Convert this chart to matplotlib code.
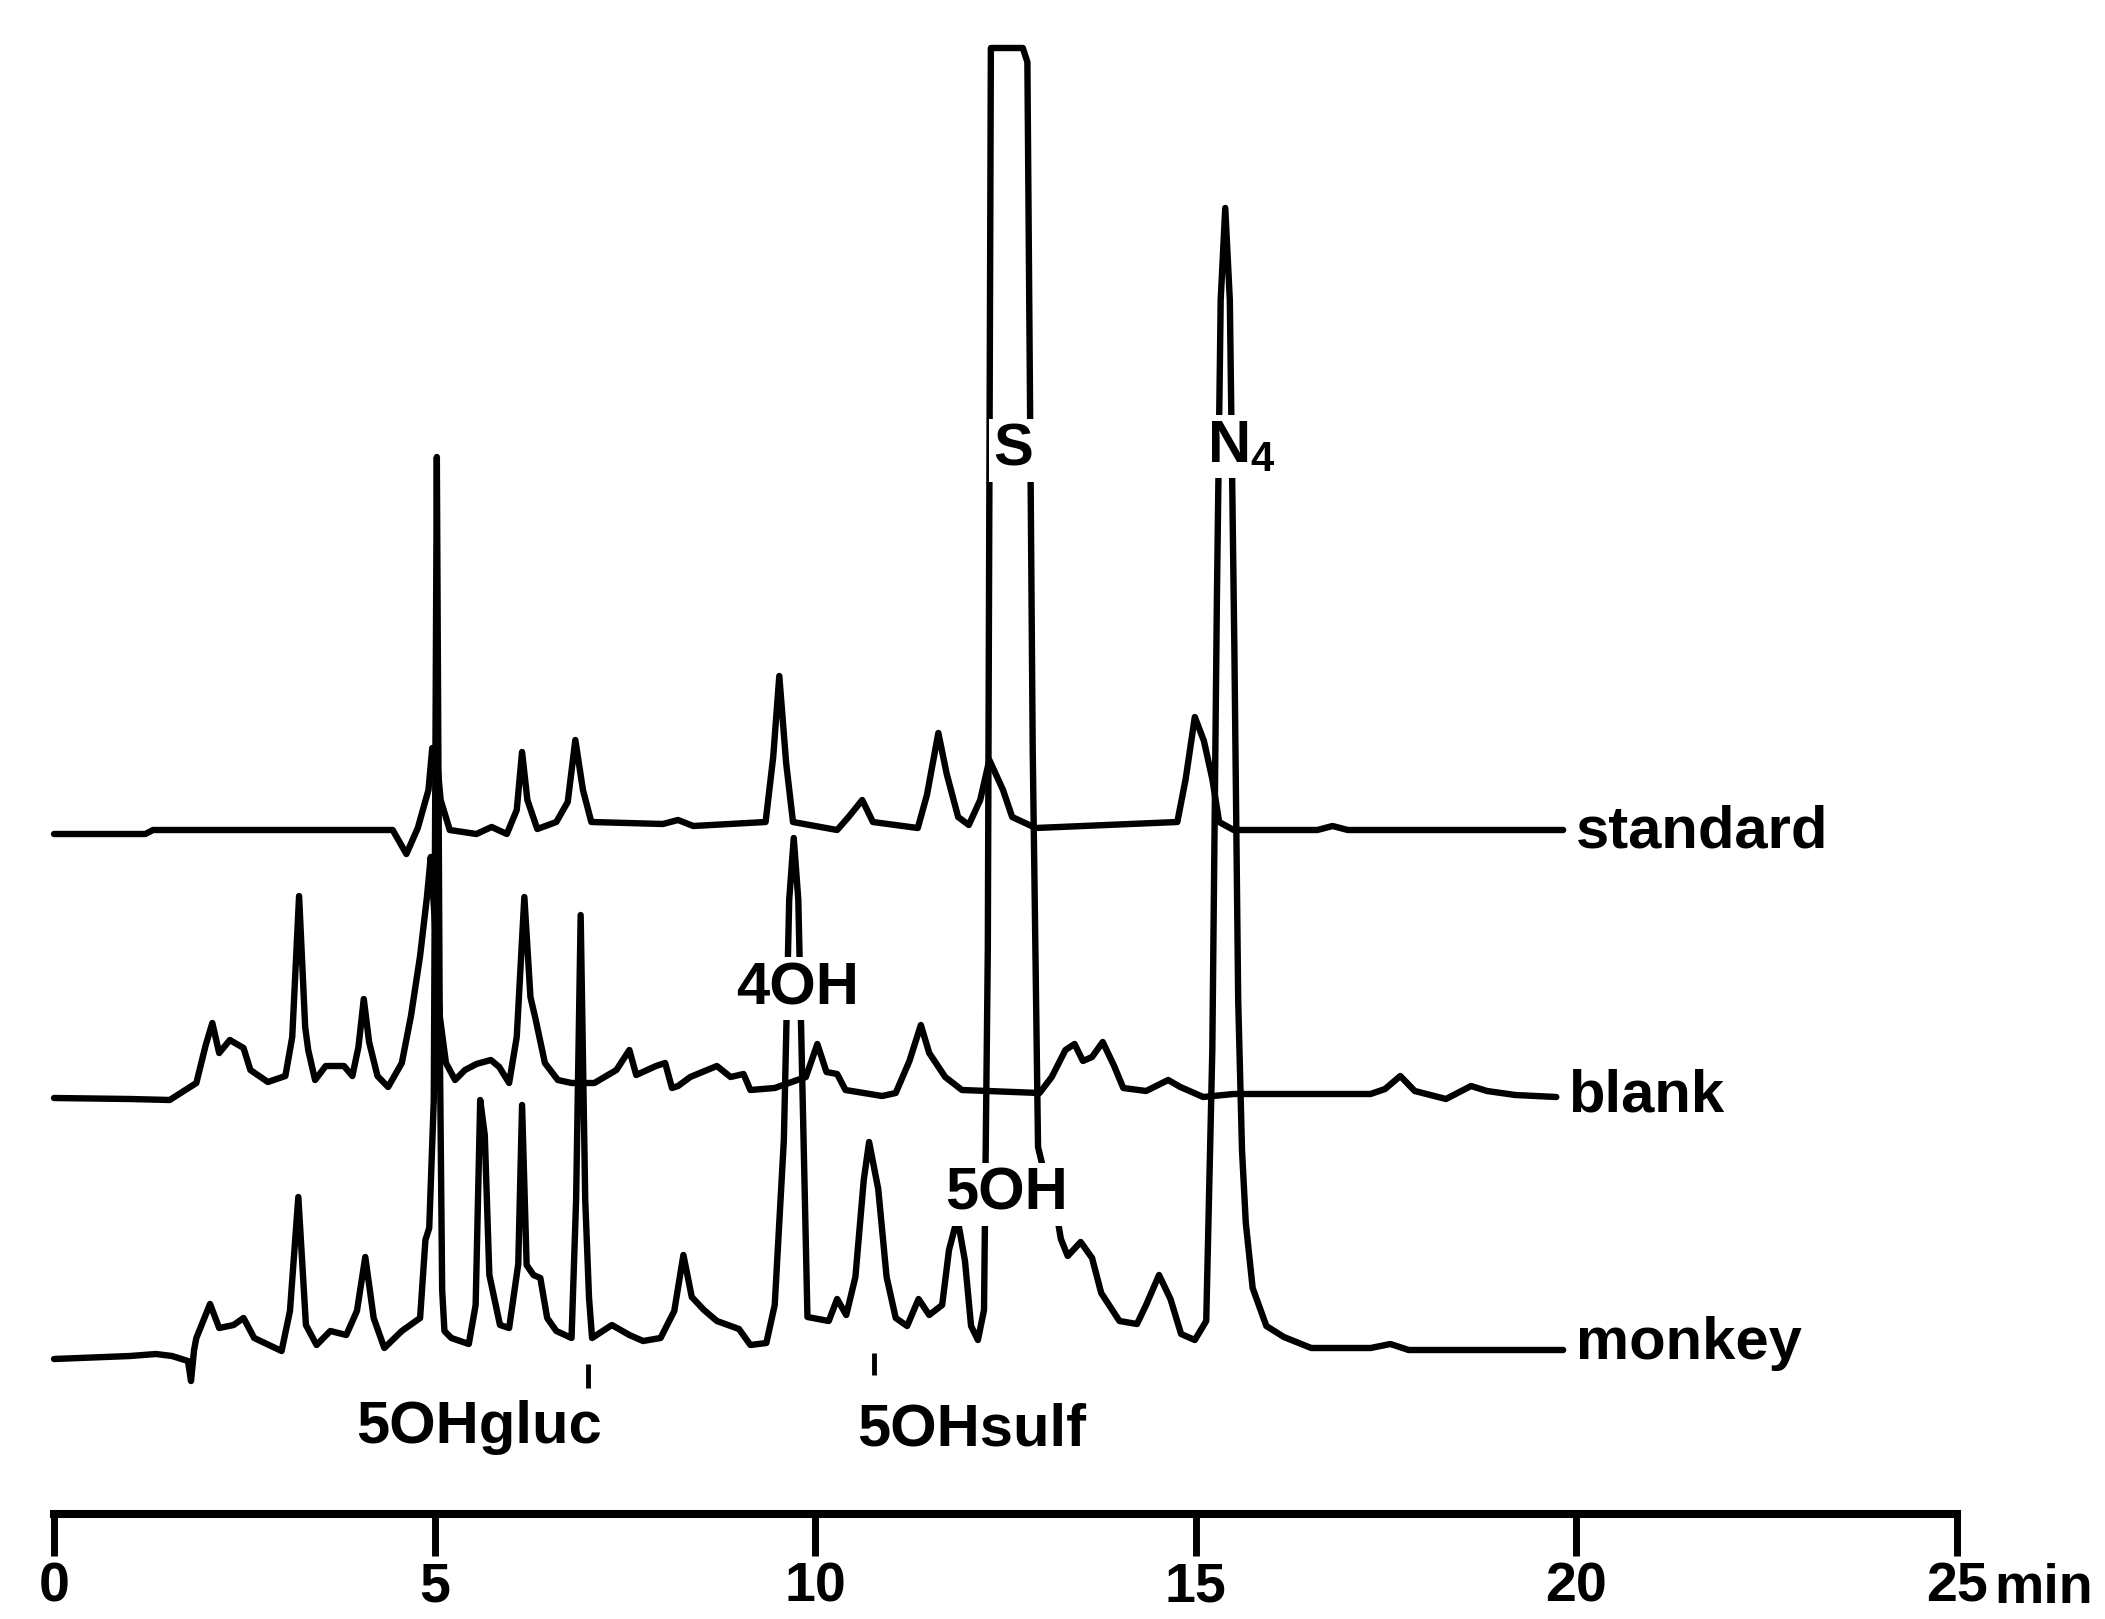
import matplotlib
matplotlib.use("Agg")
import matplotlib.pyplot as plt

# retention time (min) / detector response (arbitrary units)
standard_pts = [
    (0.0, -4), (1.2, -4), (1.3, 0), (4.45, 0), (4.63, -24), (4.78, 2), (4.92, 40),
    (4.97, 82), (5.02, 80), (5.08, 30), (5.2, 0), (5.55, -4), (5.75, 3), (5.95, -4),
    (6.08, 20), (6.15, 78), (6.22, 30), (6.35, 1), (6.6, 8), (6.75, 28), (6.85, 90),
    (6.95, 40), (7.06, 8), (8.0, 6), (8.2, 10), (8.4, 4), (9.35, 8), (9.45, 73),
    (9.53, 154), (9.62, 67), (9.71, 8), (10.29, 0), (10.44, 13), (10.62, 30),
    (10.76, 8), (11.35, 2), (11.47, 35), (11.62, 97), (11.73, 56), (11.88, 13),
    (12.02, 5), (12.17, 30), (12.29, 70), (12.47, 40), (12.59, 13), (12.9, 2),
    (14.76, 8), (14.87, 51), (14.99, 113), (15.11, 89), (15.22, 51), (15.31, 8),
    (15.5, 0), (16.6, 0), (16.8, 4), (17.0, 0), (19.83, 0),
]

blank_pts = [
    (0.0, -1), (1.0, -2), (1.52, -3), (1.87, 14), (1.99, 51), (2.08, 74), (2.17, 44),
    (2.31, 57), (2.49, 49), (2.58, 27), (2.81, 15), (3.04, 21), (3.13, 60), (3.22, 201),
    (3.30, 70), (3.34, 47), (3.43, 17), (3.57, 31), (3.81, 31), (3.92, 21), (4.00, 50),
    (4.07, 98), (4.14, 55), (4.25, 21), (4.39, 10), (4.57, 34), (4.69, 81), (4.81, 141),
    (4.90, 200), (4.95, 240), (5.00, 180), (5.07, 80), (5.15, 34), (5.27, 17), (5.40, 27),
    (5.55, 33), (5.74, 37), (5.85, 30), (5.98, 14), (6.08, 60), (6.18, 200), (6.26, 100),
    (6.33, 77), (6.45, 34), (6.62, 17), (6.80, 14), (7.10, 14), (7.39, 27), (7.56, 47),
    (7.65, 22), (7.91, 31), (8.03, 34), (8.12, 9), (8.20, 11), (8.36, 20), (8.71, 31),
    (8.89, 20), (9.06, 23), (9.15, 7), (9.47, 9), (9.88, 20), (10.03, 53), (10.15, 25),
    (10.29, 23), (10.40, 7), (10.88, 1), (11.06, 4), (11.24, 36), (11.39, 72),
    (11.50, 44), (11.71, 20), (11.93, 7), (12.95, 4), (13.11, 20), (13.29, 47),
    (13.41, 53), (13.52, 36), (13.64, 40), (13.78, 55), (13.93, 31), (14.05, 9),
    (14.35, 6), (14.64, 17), (14.80, 10), (15.10, 0), (15.5, 3), (17.3, 3), (17.49, 8),
    (17.69, 21), (17.88, 6), (18.29, -2), (18.62, 11), (18.83, 6), (19.2, 2), (19.74, 0),
]

monkey_pts = [
    (0.0, -9), (1.0, -6), (1.34, -4), (1.55, -6), (1.76, -11), (1.80, -31), (1.84, 0),
    (1.87, 12), (2.05, 46), (2.17, 22), (2.36, 25), (2.49, 32), (2.63, 12), (2.99, -1),
    (3.10, 39), (3.21, 153), (3.31, 25), (3.45, 5), (3.63, 19), (3.84, 15), (3.98, 39),
    (4.09, 93), (4.20, 32), (4.34, 2), (4.57, 19), (4.81, 32), (4.88, 110), (4.93, 122),
    (4.99, 250), (5.03, 893), (5.07, 300), (5.10, 60), (5.13, 19), (5.22, 12), (5.45, 6),
    (5.54, 45), (5.60, 250), (5.66, 215), (5.72, 75), (5.86, 25), (5.98, 22), (6.10, 86),
    (6.15, 245), (6.21, 85), (6.30, 75), (6.39, 72), (6.48, 32), (6.60, 19), (6.80, 12),
    (6.86, 150), (6.92, 435), (6.98, 150), (7.03, 52), (7.07, 12), (7.33, 25), (7.56, 15),
    (7.74, 9), (7.97, 12), (8.15, 39), (8.27, 95), (8.38, 53), (8.54, 40), (8.71, 29),
    (9.00, 21), (9.15, 5), (9.36, 7), (9.47, 45), (9.59, 210), (9.66, 450), (9.72, 512),
    (9.78, 450), (9.86, 173), (9.90, 33), (10.18, 29), (10.29, 51), (10.41, 35),
    (10.53, 73), (10.64, 170), (10.71, 208), (10.83, 161), (10.94, 73), (11.06, 32),
    (11.21, 24), (11.36, 51), (11.50, 35), (11.67, 45), (11.76, 100), (11.87, 132),
    (11.97, 89), (12.05, 24), (12.14, 10), (12.22, 40), (12.27, 400), (12.31, 1302),
    (12.73, 1302), (12.79, 1288), (12.86, 600), (12.93, 203), (13.05, 165), (13.17, 138),
    (13.23, 111), (13.32, 94), (13.49, 108), (13.64, 92), (13.76, 57), (14.00, 29),
    (14.23, 26), (14.35, 45), (14.52, 75), (14.67, 51), (14.81, 16), (14.99, 10),
    (15.14, 29), (15.22, 300), (15.28, 750), (15.33, 1050), (15.39, 1142), (15.45, 1050),
    (15.51, 700), (15.56, 350), (15.61, 200), (15.66, 127), (15.75, 62), (15.93, 24),
    (16.16, 13), (16.52, 2), (17.3, 2), (17.56, 6), (17.8, 0), (19.83, 0),
]

trace_names = ["standard", "blank", "monkey"]
time_ticks = [0, 5, 10, 15, 20, 25]

# vertical offsets of each trace on the page, and where its name sits
baselines = {"standard": 789, "blank": 522, "monkey": 269}
label_pos = {"standard": (20.0, 771), "blank": (19.9, 507), "monkey": (20.0, 260)}

plt.rcParams["font.family"] = ["Liberation Sans", "DejaVu Sans"]
plt.rcParams["font.weight"] = "bold"
plt.rcParams["mathtext.fontset"] = "custom"
plt.rcParams["mathtext.rm"] = "Liberation Sans:bold"

fig = plt.figure(figsize=(21.05, 16.19), dpi=100)
ax = fig.add_axes([0, 0, 1, 1])
ax.set_xlim(-0.71, 26.95)
ax.set_ylim(0, 1619)

fs = 43
lw = 4.6
for name, pts in zip(trace_names, [standard_pts, blank_pts, monkey_pts]):
    t = [p[0] for p in pts]
    h = [p[1] + baselines[name] for p in pts]
    ax.plot(t, h, color="black", lw=lw, solid_joinstyle="round",
            solid_capstyle="round", zorder=2)
    x0, y0 = label_pos[name]
    ax.text(x0, y0, name, fontsize=fs, ha="left", va="baseline", zorder=5)

box = dict(facecolor="white", edgecolor="none", pad=3)
ax.text(12.6, 1153, "S", fontsize=fs, ha="center", va="baseline", bbox=box, zorder=5)
ax.text(15.15, 1157, r"N$_{\mathregular{4}}$", fontsize=fs, ha="left", va="baseline",
        bbox=box, zorder=5)
ax.text(9.77, 615, "4OH", fontsize=fs, ha="center", va="baseline", bbox=box, zorder=5)
ax.text(12.51, 409, "5OH", fontsize=fs, ha="center", va="baseline", bbox=box, zorder=5)
ax.text(5.59, 176, "5OHgluc", fontsize=fs, ha="center", va="baseline", zorder=5)
ax.text(12.06, 174, "5OHsulf", fontsize=fs, ha="center", va="baseline", zorder=5)
ax.vlines([7.02, 10.77], [231, 244], [255, 266], color="black", lw=3.5)

# time axis
for s in ["top", "left", "right"]:
    ax.spines[s].set_visible(False)
ax.spines["bottom"].set_position(("data", 105))
ax.spines["bottom"].set_bounds(0, 25)
ax.spines["bottom"].set_linewidth(5.8)
ax.spines["bottom"].set_capstyle("projecting")
ax.set_yticks([])
ax.set_xticks(time_ticks)
ax.set_xticklabels([str(v) for v in time_ticks])
ax.tick_params(axis="x", direction="out", length=30, width=5, pad=4, labelsize=40)
ax.text(25.5, 30, "min", fontsize=40, ha="left", va="center")

fig.savefig("out.png", dpi=100, facecolor="white")
